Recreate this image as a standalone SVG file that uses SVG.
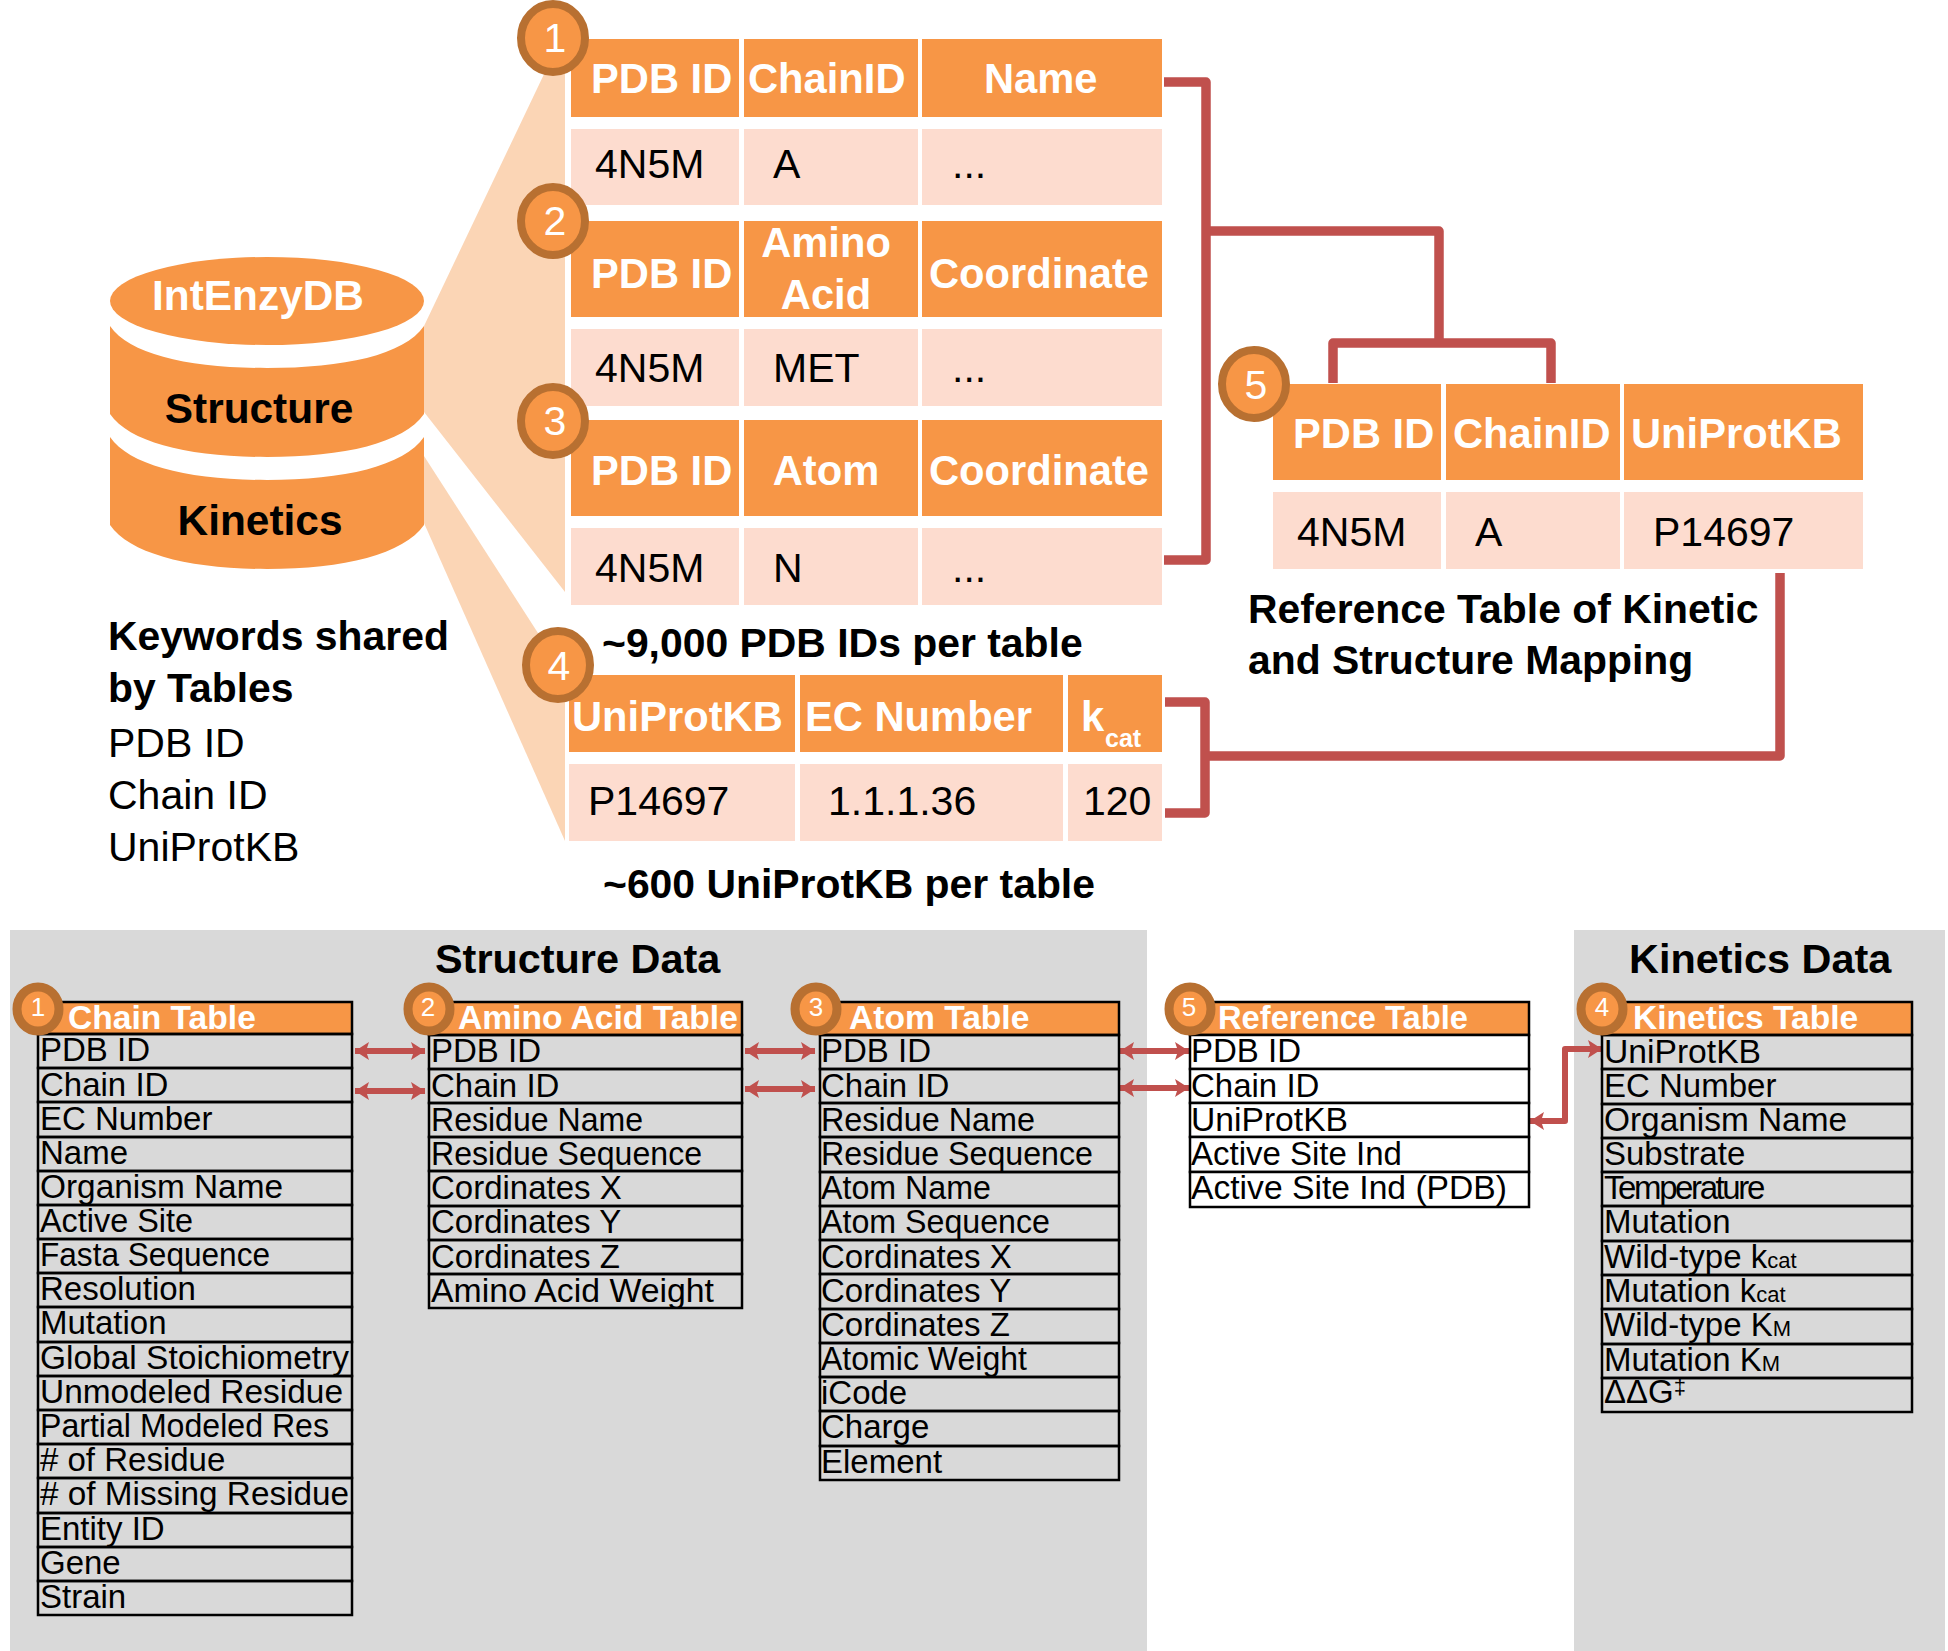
<svg xmlns="http://www.w3.org/2000/svg" width="1948" height="1651" viewBox="0 0 1948 1651">
<defs>
<marker id="ah" viewBox="0 0 14 18" refX="14" refY="9" markerWidth="14" markerHeight="18" markerUnits="userSpaceOnUse" orient="auto-start-reverse"><path d="M0 0L14 9L0 18L3 9Z" fill="#C0504D"/></marker>
</defs>
<style>
text{font-family:"Liberation Sans",Arial,sans-serif;fill:#000}
.o{fill:#F79646}
.l{fill:#FDDCCF}
.f{fill:#FBD5B5}
.h{font-size:41.7px;font-weight:700;fill:#fff}
.d{font-size:41px}
.b{font-size:40.9px;font-weight:700}
.db{font-size:42.4px;font-weight:700}
.pt{font-size:41.4px;font-weight:700}
.c{fill:#F79646;stroke:#B87031;stroke-width:8}
.n{font-size:41px;fill:#fff;text-anchor:middle}
.sc{fill:#F79646;stroke:#B87031;stroke-width:9}
.sn{font-size:26px;fill:#fff;text-anchor:middle}
.m{text-anchor:middle}
.bg{fill:#D9D9D9}
.th{fill:#F79646;stroke:#000;stroke-width:2.5}
.r{fill:none;stroke:#000;stroke-width:2.5}
.w{fill:#fff;stroke:#000;stroke-width:2.5}
.t{font-size:33px}
.tb{font-size:33.6px;font-weight:700;fill:#fff}
.s{font-size:22px}
.con{fill:none;stroke:#C0504D;stroke-width:9.5;stroke-linejoin:round}
.arr{fill:none;stroke:#C0504D;stroke-width:6;stroke-linejoin:round;marker-start:url(#ah);marker-end:url(#ah)}
</style>
<g id="fans">
<path class="f" d="M424 326L546 70L565 70L565 592L424 412Z"/>
<path class="f" d="M424 456L565 675L565 841L424 523Z"/>
</g>
<g id="panels">
<rect class="bg" x="10" y="930" width="1137" height="721"/>
<rect class="bg" x="1574" y="930" width="371" height="721"/>
<text class="pt" x="435" y="973">Structure Data</text>
<text class="pt" x="1629" y="973">Kinetics Data</text>
</g>
<g id="connectors">
<path class="con" d="M1164 82H1206V560H1164"/>
<path class="con" d="M1206 231H1439V343"/>
<path class="con" d="M1333 383V343H1551V383"/>
<path class="con" d="M1165 702H1205V813H1165"/>
<path class="con" d="M1205 756H1780V573"/>
<path class="arr" d="M355 1051H425"/>
<path class="arr" d="M355 1091H425"/>
<path class="arr" d="M745 1051H815"/>
<path class="arr" d="M745 1089H815"/>
<path class="arr" d="M1120 1051H1189"/>
<path class="arr" d="M1120 1088H1189"/>
<path class="arr" d="M1602 1049H1565V1121H1530"/>
</g>
<g id="database">
<ellipse class="o" cx="267" cy="301" rx="157" ry="44"/>
<path class="o" d="M110 326C130 355 190 368 267 368C344 368 404 355 424 326V414C404 443 344 457 267 457C190 457 130 443 110 414Z"/>
<path class="o" d="M110 437C130 466 190 480 267 480C344 480 404 466 424 437V525C404 554 344 569 267 569C190 569 130 554 110 525Z"/>
<text class="db" x="258" y="310" text-anchor="middle" style="fill:#fff">IntEnzyDB</text>
<text class="db" x="259" y="423" text-anchor="middle">Structure</text>
<text class="db" x="260" y="535" text-anchor="middle">Kinetics</text>
</g>
<g id="keywords">
<text class="b" x="108" y="650">Keywords shared</text>
<text class="b" x="108" y="702">by Tables</text>
<text class="d" x="108" y="757">PDB ID</text>
<text class="d" x="108" y="809">Chain ID</text>
<text class="d" x="108" y="861">UniProtKB</text>
</g>
<g id="top-table-1">
<rect class="o" x="571" y="39" width="168" height="78"/><rect class="o" x="744" y="39" width="174" height="78"/><rect class="o" x="922" y="39" width="240" height="78"/>
<rect class="l" x="571" y="129" width="168" height="76"/><rect class="l" x="744" y="129" width="174" height="76"/><rect class="l" x="922" y="129" width="240" height="76"/>
<text class="h" x="591" y="93">PDB ID</text><text class="h" x="748" y="93">ChainID</text><text class="h" x="984" y="93">Name</text>
<text class="d" x="595" y="178">4N5M</text><text class="d" x="773" y="178">A</text><text class="d" x="952" y="178">...</text>
<ellipse class="c" cx="553" cy="38" rx="32" ry="34"/><text class="n" x="555" y="52">1</text>
</g>
<g id="top-table-2">
<rect class="o" x="571" y="221" width="168" height="96"/><rect class="o" x="744" y="221" width="174" height="96"/><rect class="o" x="922" y="221" width="240" height="96"/>
<rect class="l" x="571" y="329" width="168" height="77"/><rect class="l" x="744" y="329" width="174" height="77"/><rect class="l" x="922" y="329" width="240" height="77"/>
<text class="h" x="591" y="288">PDB ID</text><text class="h m" x="826" y="257">Amino</text><text class="h m" x="826" y="309">Acid</text><text class="h" x="929" y="288">Coordinate</text>
<text class="d" x="595" y="382">4N5M</text><text class="d" x="773" y="382">MET</text><text class="d" x="952" y="382">...</text>
<ellipse class="c" cx="553" cy="221" rx="32" ry="34"/><text class="n" x="555" y="235">2</text>
</g>
<g id="top-table-3">
<rect class="o" x="571" y="420" width="168" height="96"/><rect class="o" x="744" y="420" width="174" height="96"/><rect class="o" x="922" y="420" width="240" height="96"/>
<rect class="l" x="571" y="528" width="168" height="77"/><rect class="l" x="744" y="528" width="174" height="77"/><rect class="l" x="922" y="528" width="240" height="77"/>
<text class="h" x="591" y="485">PDB ID</text><text class="h m" x="826" y="485">Atom</text><text class="h" x="929" y="485">Coordinate</text>
<text class="d" x="595" y="582">4N5M</text><text class="d" x="773" y="582">N</text><text class="d" x="952" y="582">...</text>
<ellipse class="c" cx="553" cy="421" rx="32" ry="34"/><text class="n" x="555" y="435">3</text>
</g>
<text id="count-pdb" class="b" x="602" y="657">~9,000 PDB IDs per table</text>
<g id="top-table-4">
<rect class="o" x="569" y="675" width="226" height="77"/><rect class="o" x="800" y="675" width="263" height="77"/><rect class="o" x="1068" y="675" width="94" height="77"/>
<rect class="l" x="569" y="764" width="226" height="77"/><rect class="l" x="800" y="764" width="263" height="77"/><rect class="l" x="1068" y="764" width="94" height="77"/>
<text class="h" x="572" y="731">UniProtKB</text><text class="h" x="805" y="731">EC Number</text><text class="h" x="1081" y="731">k</text><text class="h" x="1105" y="747" style="font-size:25px">cat</text>
<text class="d" x="588" y="815">P14697</text><text class="d" x="828" y="815">1.1.1.36</text><text class="d" x="1083" y="815">120</text>
<ellipse class="c" cx="558" cy="665" rx="32" ry="34"/><text class="n" x="559" y="680">4</text>
</g>
<text id="count-uniprot" class="b" x="603" y="898">~600 UniProtKB per table</text>
<g id="top-table-5">
<rect class="o" x="1273" y="384" width="168" height="96"/><rect class="o" x="1446" y="384" width="174" height="96"/><rect class="o" x="1624" y="384" width="239" height="96"/>
<rect class="l" x="1273" y="492" width="168" height="77"/><rect class="l" x="1446" y="492" width="174" height="77"/><rect class="l" x="1624" y="492" width="239" height="77"/>
<text class="h" x="1293" y="448">PDB ID</text><text class="h" x="1453" y="448">ChainID</text><text class="h" x="1631" y="448">UniProtKB</text>
<text class="d" x="1297" y="546">4N5M</text><text class="d" x="1475" y="546">A</text><text class="d" x="1653" y="546">P14697</text>
<ellipse class="c" cx="1254" cy="384" rx="32" ry="34"/><text class="n" x="1256" y="399">5</text>
</g>
<g id="reference-caption">
<text class="b" x="1248" y="623">Reference Table of Kinetic</text>
<text class="b" x="1248" y="674">and Structure Mapping</text>
</g>
<g id="chain-table">
<rect class="th" x="38" y="1002" width="314" height="32"/><text class="tb" x="68" y="1029">Chain Table</text>
<rect class="r" x="38" y="1034" width="314" height="34"/><text class="t" x="40" y="1061">PDB ID</text>
<rect class="r" x="38" y="1068" width="314" height="34"/><text class="t" x="40" y="1096">Chain ID</text>
<rect class="r" x="38" y="1102" width="314" height="35"/><text class="t" x="40" y="1130">EC Number</text>
<rect class="r" x="38" y="1137" width="314" height="34"/><text class="t" x="40" y="1164">Name</text>
<rect class="r" x="38" y="1171" width="314" height="34"/><text class="t" x="40" y="1198" textLength="243" lengthAdjust="spacingAndGlyphs">Organism Name</text>
<rect class="r" x="38" y="1205" width="314" height="34"/><text class="t" x="40" y="1232" textLength="153" lengthAdjust="spacingAndGlyphs">Active Site</text>
<rect class="r" x="38" y="1239" width="314" height="34"/><text class="t" x="40" y="1266" textLength="230" lengthAdjust="spacingAndGlyphs">Fasta Sequence</text>
<rect class="r" x="38" y="1273" width="314" height="34"/><text class="t" x="40" y="1300">Resolution</text>
<rect class="r" x="38" y="1307" width="314" height="35"/><text class="t" x="40" y="1334">Mutation</text>
<rect class="r" x="38" y="1342" width="314" height="34"/><text class="t" x="40" y="1369" textLength="309" lengthAdjust="spacingAndGlyphs">Global Stoichiometry</text>
<rect class="r" x="38" y="1376" width="314" height="34"/><text class="t" x="40" y="1403" textLength="303" lengthAdjust="spacingAndGlyphs">Unmodeled Residue</text>
<rect class="r" x="38" y="1410" width="314" height="34"/><text class="t" x="40" y="1437" textLength="289" lengthAdjust="spacingAndGlyphs">Partial Modeled Res</text>
<rect class="r" x="38" y="1444" width="314" height="34"/><text class="t" x="40" y="1471"># of Residue</text>
<rect class="r" x="38" y="1478" width="314" height="35"/><text class="t" x="40" y="1505" textLength="309" lengthAdjust="spacingAndGlyphs"># of Missing Residue</text>
<rect class="r" x="38" y="1513" width="314" height="34"/><text class="t" x="40" y="1540">Entity ID</text>
<rect class="r" x="38" y="1547" width="314" height="34"/><text class="t" x="40" y="1574">Gene</text>
<rect class="r" x="38" y="1581" width="314" height="34"/><text class="t" x="40" y="1608">Strain</text>
<ellipse class="sc" cx="38" cy="1009" rx="21" ry="22"/><text class="sn" x="38" y="1016">1</text>
</g>
<g id="amino-acid-table">
<rect class="th" x="429" y="1002" width="313" height="33"/><text class="tb" x="458" y="1029">Amino Acid Table</text>
<rect class="r" x="429" y="1035" width="313" height="34"/><text class="t" x="431" y="1062">PDB ID</text>
<rect class="r" x="429" y="1069" width="313" height="34"/><text class="t" x="431" y="1097">Chain ID</text>
<rect class="r" x="429" y="1103" width="313" height="34"/><text class="t" x="431" y="1131" textLength="212" lengthAdjust="spacingAndGlyphs">Residue Name</text>
<rect class="r" x="429" y="1137" width="313" height="34"/><text class="t" x="431" y="1165" textLength="271" lengthAdjust="spacingAndGlyphs">Residue Sequence</text>
<rect class="r" x="429" y="1171" width="313" height="35"/><text class="t" x="431" y="1199">Cordinates X</text>
<rect class="r" x="429" y="1206" width="313" height="34"/><text class="t" x="431" y="1233">Cordinates Y</text>
<rect class="r" x="429" y="1240" width="313" height="34"/><text class="t" x="431" y="1268">Cordinates Z</text>
<rect class="r" x="429" y="1274" width="313" height="34"/><text class="t" x="431" y="1302" textLength="283" lengthAdjust="spacingAndGlyphs">Amino Acid Weight</text>
<ellipse class="sc" cx="429" cy="1009" rx="21" ry="22"/><text class="sn" x="428" y="1016">2</text>
</g>
<g id="atom-table">
<rect class="th" x="820" y="1002" width="299" height="33"/><text class="tb" x="849" y="1029">Atom Table</text>
<rect class="r" x="820" y="1035" width="299" height="34"/><text class="t" x="821" y="1062">PDB ID</text>
<rect class="r" x="820" y="1069" width="299" height="34"/><text class="t" x="821" y="1097">Chain ID</text>
<rect class="r" x="820" y="1103" width="299" height="34"/><text class="t" x="821" y="1131" textLength="214" lengthAdjust="spacingAndGlyphs">Residue Name</text>
<rect class="r" x="820" y="1137" width="299" height="35"/><text class="t" x="821" y="1165" textLength="272" lengthAdjust="spacingAndGlyphs">Residue Sequence</text>
<rect class="r" x="820" y="1172" width="299" height="34"/><text class="t" x="821" y="1199" textLength="170" lengthAdjust="spacingAndGlyphs">Atom Name</text>
<rect class="r" x="820" y="1206" width="299" height="34"/><text class="t" x="821" y="1233" textLength="229" lengthAdjust="spacingAndGlyphs">Atom Sequence</text>
<rect class="r" x="820" y="1240" width="299" height="34"/><text class="t" x="821" y="1268">Cordinates X</text>
<rect class="r" x="820" y="1274" width="299" height="35"/><text class="t" x="821" y="1302">Cordinates Y</text>
<rect class="r" x="820" y="1309" width="299" height="34"/><text class="t" x="821" y="1336">Cordinates Z</text>
<rect class="r" x="820" y="1343" width="299" height="34"/><text class="t" x="821" y="1370" textLength="206" lengthAdjust="spacingAndGlyphs">Atomic Weight</text>
<rect class="r" x="820" y="1377" width="299" height="34"/><text class="t" x="821" y="1404">iCode</text>
<rect class="r" x="820" y="1411" width="299" height="35"/><text class="t" x="821" y="1438">Charge</text>
<rect class="r" x="820" y="1446" width="299" height="34"/><text class="t" x="821" y="1473">Element</text>
<ellipse class="sc" cx="816" cy="1009" rx="21" ry="22"/><text class="sn" x="816" y="1016">3</text>
</g>
<g id="reference-table">
<rect class="th" x="1190" y="1002" width="339" height="33"/><text class="tb" x="1218" y="1029" textLength="250" lengthAdjust="spacingAndGlyphs">Reference Table</text>
<rect class="w" x="1190" y="1035" width="339" height="34"/><text class="t" x="1191" y="1062">PDB ID</text>
<rect class="w" x="1190" y="1069" width="339" height="34"/><text class="t" x="1191" y="1097">Chain ID</text>
<rect class="w" x="1190" y="1103" width="339" height="34"/><text class="t" x="1191" y="1131" textLength="157" lengthAdjust="spacingAndGlyphs">UniProtKB</text>
<rect class="w" x="1190" y="1137" width="339" height="35"/><text class="t" x="1191" y="1165">Active Site Ind</text>
<rect class="w" x="1190" y="1172" width="339" height="35"/><text class="t" x="1191" y="1199" textLength="316" lengthAdjust="spacingAndGlyphs">Active Site Ind (PDB)</text>
<ellipse class="sc" cx="1190" cy="1009" rx="21" ry="22"/><text class="sn" x="1189" y="1016">5</text>
</g>
<g id="kinetics-table">
<rect class="th" x="1602" y="1002" width="310" height="33"/><text class="tb" x="1633" y="1029">Kinetics Table</text>
<rect class="r" x="1602" y="1035" width="310" height="34"/><text class="t" x="1604" y="1063" textLength="157" lengthAdjust="spacingAndGlyphs">UniProtKB</text>
<rect class="r" x="1602" y="1069" width="310" height="35"/><text class="t" x="1604" y="1097">EC Number</text>
<rect class="r" x="1602" y="1104" width="310" height="34"/><text class="t" x="1604" y="1131" textLength="243" lengthAdjust="spacingAndGlyphs">Organism Name</text>
<rect class="r" x="1602" y="1138" width="310" height="34"/><text class="t" x="1604" y="1165">Substrate</text>
<rect class="r" x="1602" y="1172" width="310" height="34"/><text class="t" x="1604" y="1199" style="letter-spacing:-2.4px">Temperature</text>
<rect class="r" x="1602" y="1206" width="310" height="35"/><text class="t" x="1604" y="1233">Mutation</text>
<rect class="r" x="1602" y="1241" width="310" height="34"/><text class="t" x="1604" y="1268">Wild-type k<tspan class="s">cat</tspan></text>
<rect class="r" x="1602" y="1275" width="310" height="34"/><text class="t" x="1604" y="1302">Mutation k<tspan class="s">cat</tspan></text>
<rect class="r" x="1602" y="1309" width="310" height="35"/><text class="t" x="1604" y="1336">Wild-type K<tspan class="s">M</tspan></text>
<rect class="r" x="1602" y="1344" width="310" height="34"/><text class="t" x="1604" y="1371">Mutation K<tspan class="s">M</tspan></text>
<rect class="r" x="1602" y="1378" width="310" height="34"/><text class="t" x="1604" y="1403">ΔΔG<tspan class="s" dy="-9">‡</tspan></text>
<ellipse class="sc" cx="1602" cy="1009" rx="21" ry="22"/><text class="sn" x="1602" y="1016">4</text>
</g>
</svg>
